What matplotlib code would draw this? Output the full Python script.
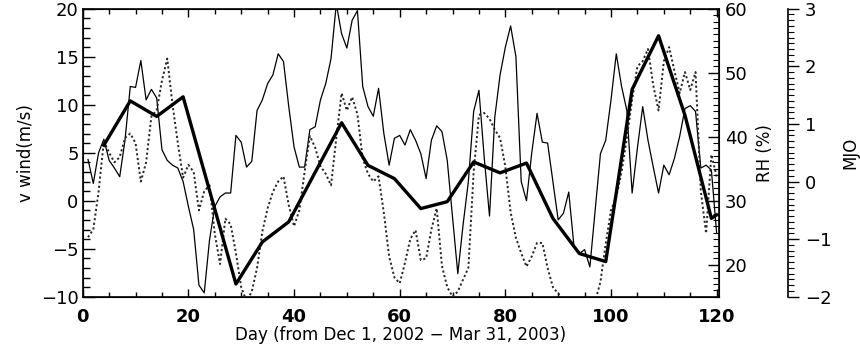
import numpy as np
import matplotlib
matplotlib.use('Agg')
import matplotlib.pyplot as plt
from matplotlib.ticker import MultipleLocator

# Daily series, Dec 1 2002 - Mar 31 2003
days = np.arange(1, 121)

# meridional wind (m/s), thin solid line
vwind = [4.3, 1.8, 5.0, 6.4, 4.2, 3.4, 2.5, 6.3, 11.9, 11.8,
         14.6, 10.5, 11.6, 10.7, 5.3, 4.2, 3.7, 3.4, 2.0, -0.6,
         -3.0, -8.8, -9.6, -4.1, -0.6, 0.4, 0.8, 0.8, 6.8, 6.1,
         3.5, 4.1, 9.4, 10.5, 12.2, 13.1, 15.3, 14.5, 9.8, 5.6,
         3.5, 3.5, 7.4, 7.7, 10.5, 12.2, 14.8, 20.5, 17.4, 15.9,
         18.8, 19.8, 11.9, 9.8, 8.8, 11.7, 7.0, 3.7, 6.5, 6.8,
         5.8, 7.4, 6.3, 4.9, 2.3, 6.3, 7.8, 7.2, 4.2, -1.7,
         -7.6, -2.5, 2.0, 9.3, 11.5, 4.5, -1.6, 8.7, 13.1, 16.0,
         18.2, 15.0, 2.0, 0.0, 5.0, 9.1, 6.1, 6.0, 2.0, -2.0,
         -1.3, 0.9, -4.8, -5.5, -5.1, -6.9, -1.0, 4.9, 6.3, 10.5,
         15.3, 11.9, 9.4, 0.8, 5.5, 9.8, 6.3, 3.5, 0.8, 3.7,
         2.7, 4.4, 6.7, 9.6, 9.9, 9.3, 3.4, 3.7, 3.2, -3.4]

# relative humidity (%), dotted line
rh = [24.3, 25.5, 31.4, 39.3, 37.5, 36.0, 36.8, 39.8, 40.5, 39.0,
      33.0, 36.0, 43.2, 44.1, 48.8, 52.2, 45.0, 39.0, 33.6, 35.6,
      34.5, 28.5, 31.5, 32.4, 24.8, 20.1, 27.2, 26.3, 21.8, 16.5,
      14.3, 15.8, 19.5, 25.2, 28.8, 31.4, 33.0, 33.8, 29.3, 26.0,
      28.5, 34.5, 40.1, 38.3, 35.4, 34.2, 32.4, 39.8, 46.8, 44.1,
      46.2, 43.5, 36.6, 34.2, 33.0, 33.8, 28.1, 21.3, 18.0, 17.1,
      20.3, 24.0, 25.4, 20.7, 21.0, 25.5, 28.8, 19.8, 16.5, 15.0,
      15.8, 17.7, 19.5, 34.5, 43.4, 43.7, 42.8, 41.1, 39.8, 35.3,
      28.2, 24.2, 21.8, 19.7, 21.3, 23.4, 23.4, 19.5, 16.5, 15.5,
      14.7, 14.3, 12.0, 10.5, 10.5, 12.0, 14.3, 17.3, 23.3, 28.5,
      30.6, 34.5, 39.8, 45.8, 51.0, 51.8, 53.7, 48.0, 44.1, 51.8,
      54.0, 50.3, 46.8, 50.1, 47.3, 50.1, 31.5, 24.9, 37.2, 33.8]

# MJO index (pentad), thick solid line
mjo_days = [4, 9, 14, 19, 29, 34, 39, 49, 54, 59, 64, 69, 74, 79, 84,
            89, 94, 99, 104, 109, 114, 119, 120]
mjo = [0.63, 1.40, 1.13, 1.47, -1.78, -1.05, -0.70, 1.02, 0.28, 0.05,
       -0.47, -0.35, 0.34, 0.15, 0.32, -0.64, -1.25, -1.39, 1.60, 2.53,
       1.15, -0.64, -0.58]

plt.rcParams['font.family'] = 'DejaVu Sans'

fig = plt.figure(figsize=(8.6, 3.48), dpi=100)
ax = fig.add_axes([0.0962, 0.1474, 0.7402, 0.8276])

ax.plot(days, vwind, color='black', lw=0.9)
ax.set_xlim(0, 120.5)
ax.set_ylim(-10, 20)
ax.xaxis.set_major_locator(MultipleLocator(20))
ax.xaxis.set_minor_locator(MultipleLocator(5))
ax.yaxis.set_major_locator(MultipleLocator(5))
ax.yaxis.set_minor_locator(MultipleLocator(1))
ax.tick_params(axis='x', which='both', direction='in', top=True, bottom=True)
ax.tick_params(axis='x', which='major', length=6, width=1, labelsize=13, pad=8)
ax.tick_params(axis='x', which='minor', length=3.5, width=1)
ax.tick_params(axis='y', which='both', direction='in', left=True, right=False)
ax.tick_params(axis='y', which='major', length=8.5, width=1, labelsize=13, pad=3)
ax.tick_params(axis='y', which='minor', length=5, width=1)
for lab in ax.get_xticklabels():
    lab.set_fontweight('bold')
ax.set_xlabel('Day (from Dec 1, 2002 \u2212 Mar 31, 2003)', fontsize=12, labelpad=0)
ax.set_ylabel('v wind(m/s)', fontsize=12, labelpad=4)
for sp in ax.spines.values():
    sp.set_linewidth(1.2)

# RH axis on the right spine
ax_rh = ax.twinx()
ax_rh.plot(days, rh, color='0.15', lw=1.4, linestyle=(0, (1.1, 1.3)))
ax_rh.set_ylim(15, 60)
ax_rh.yaxis.set_major_locator(MultipleLocator(10))
ax_rh.yaxis.set_minor_locator(MultipleLocator(1))
ax_rh.tick_params(axis='y', which='both', direction='in')
ax_rh.tick_params(axis='y', which='major', length=8, width=1, labelsize=13, pad=4)
ax_rh.tick_params(axis='y', which='minor', length=4.5, width=0.8)
ax_rh.set_ylabel('RH (%)', fontsize=12, labelpad=6)

# MJO axis, offset to the right
ax_mjo = ax.twinx()
ax_mjo.plot(mjo_days, mjo, color='black', lw=2.4)
ax_mjo.set_ylim(-2, 3)
ax_mjo.spines['right'].set_position(('axes', 1.1085))
for side in ['top', 'bottom', 'left']:
    ax_mjo.spines[side].set_visible(False)
ax_mjo.spines['right'].set_linewidth(1.2)
ax_mjo.yaxis.set_major_locator(MultipleLocator(1))
ax_mjo.yaxis.set_minor_locator(MultipleLocator(0.1))
ax_mjo.tick_params(axis='y', which='both', direction='out')
ax_mjo.tick_params(axis='y', which='major', length=8, width=1, labelsize=13, pad=4)
ax_mjo.tick_params(axis='y', which='minor', length=4.5, width=0.8)
ax_mjo.set_ylabel('MJO', fontsize=12, labelpad=7)

fig.savefig('out.png', dpi=100)
